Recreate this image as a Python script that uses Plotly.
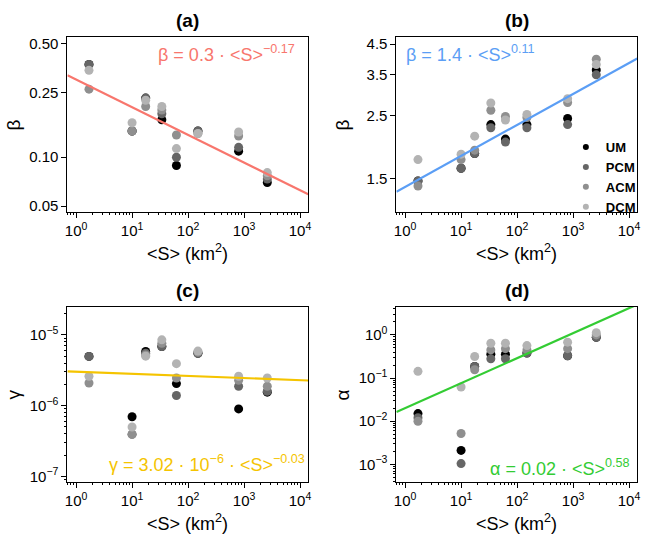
import numpy as np
import plotly.graph_objects as go

# mean area of the spatial units (km^2)
S = [1.7, 10, 17.5, 34, 62, 150, 800, 2600]
models = ["UM", "PCM", "ACM", "DCM"]
model_colors = ["#000000", "#666666", "#8f8f8f", "#b3b3b3"]

beta_a = {
    "UM":  [0.372, 0.145, 0.231, 0.170, 0.089, 0.145, 0.109, 0.070],
    "PCM": [0.372, 0.145, 0.231, 0.185, 0.100, 0.145, 0.115, 0.0734],
    "ACM": [0.262, 0.145, 0.205, 0.195, 0.137, 0.140, 0.135, 0.0769],
    "DCM": [0.342, 0.163, 0.224, 0.205, 0.113, 0.140, 0.143, 0.0805],
}
beta_b = {
    "UM":  [1.47, 1.63, 1.84, 2.33, 2.07, 2.33, 2.45, 3.64],
    "PCM": [1.47, 1.63, 1.84, 2.27, 2.02, 2.27, 2.33, 3.50],
    "ACM": [1.41, 1.75, 1.89, 2.62, 2.49, 2.47, 2.79, 3.98],
    "DCM": [1.75, 1.83, 2.12, 2.78, 2.42, 2.53, 2.88, 3.81],
}
gamma_c = {
    "UM":  [4.96e-6, 6.97e-7, 5.83e-6, 6.86e-6, 2.05e-6, 5.5e-6, 9.0e-7, 1.55e-6],
    "PCM": [4.96e-6, 3.94e-7, 5.5e-6, 6.86e-6, 1.39e-6, 5.5e-6, 1.88e-6, 1.6e-6],
    "ACM": [2.09e-6, 3.94e-7, 5.2e-6, 7.6e-6, 2.46e-6, 5.7e-6, 2.28e-6, 1.88e-6],
    "DCM": [2.6e-6, 5.0e-7, 5.0e-6, 8.5e-6, 3.92e-6, 5.9e-6, 2.6e-6, 2.46e-6],
}
alpha_d = {
    "UM":  [0.015, 0.0021, 0.186, 0.358, 0.358, 0.38, 0.33, 0.88],
    "PCM": [0.012, 0.00104, 0.186, 0.279, 0.28, 0.38, 0.33, 0.88],
    "ACM": [0.010, 0.0052, 0.156, 0.45, 0.48, 0.45, 0.48, 1.0],
    "DCM": [0.143, 0.062, 0.316, 0.64, 0.64, 0.567, 0.68, 1.13],
}

# power-law fits  y = c * S^k
fit_coef = [0.3, 1.4, 3.02e-6, 0.02]
fit_exp = [-0.17, 0.11, -0.03, 0.58]
fit_colors = ["#f8766d", "#5b9ef5", "#f5c400", "#33cc33"]
fit_labels = [
    "β = 0.3 · &lt;S&gt;<sup>−0.17</sup>",
    "β = 1.4 · &lt;S&gt;<sup>0.11</sup>",
    "γ = 3.02 · 10<sup>−6</sup> · &lt;S&gt;<sup>−0.03</sup>",
    "α = 0.02 · &lt;S&gt;<sup>0.58</sup>",
]
panel_titles = ["(a)", "(b)", "(c)", "(d)"]
y_titles = ["β", "β", "γ", "α"]

x_range = [np.log10(0.7), np.log10(14000)]
y_ranges = [
    [np.log10(0.0458), np.log10(0.55)],
    [np.log10(1.136), np.log10(4.78)],
    [-7.084, -4.603],
    [-3.42, 0.654],
]
y_tickvals = [
    [0.05, 0.10, 0.25, 0.50],
    [1.5, 2.5, 3.5, 4.5],
    [1e-7, 1e-6, 1e-5],
    [1e-3, 1e-2, 1e-1, 1e0],
]
y_ticktext = [
    ["0.05", "0.10", "0.25", "0.50"],
    ["1.5", "2.5", "3.5", "4.5"],
    ["10<sup>−7</sup>", "10<sup>−6</sup>", "10<sup>−5</sup>"],
    ["10<sup>−3</sup>", "10<sup>−2</sup>", "10<sup>−1</sup>", "10<sup>0</sup>"],
]
y_minor = [False, False, True, True]
datasets = [beta_a, beta_b, gamma_c, alpha_d]

W, H = 664, 544
x_dom = [[65 / W, 308 / W], [397 / W, 640 / W]]
y_dom = [[1 - 212 / H, 1 - 35 / H], [1 - 484 / H, 1 - 307 / H]]

FONT = "Liberation Sans, Arial, sans-serif"

fig = go.Figure()
layout = {}
annotations = []
minor_style = dict(ticks="outside", ticklen=2, tickcolor="black",
                   dtick="D1", showgrid=False)

for i in range(4):
    r, c = divmod(i, 2)
    sfx = "" if i == 0 else str(i + 1)
    xa, ya = "x" + sfx, "y" + sfx

    data = datasets[i]
    for m, col in zip(models, model_colors):
        fig.add_trace(go.Scatter(
            x=S, y=data[m], mode="markers", xaxis=xa, yaxis=ya,
            marker=dict(color=col, size=9), showlegend=False, name=m,
        ))

    xs = np.array([0.7, 14000])
    fig.add_trace(go.Scatter(
        x=xs, y=fit_coef[i] * xs ** fit_exp[i], mode="lines",
        xaxis=xa, yaxis=ya, line=dict(color=fit_colors[i], width=2.2),
        showlegend=False, hoverinfo="skip",
    ))

    common = dict(
        type="log", showgrid=False, zeroline=False, showline=True,
        linecolor="black", linewidth=1, mirror=True, ticks="outside",
        ticklen=5, tickcolor="black", tickfont=dict(size=15, color="black"),
    )
    layout["xaxis" + sfx] = dict(
        common, domain=x_dom[c], range=x_range, anchor=ya,
        tickvals=[1, 10, 100, 1000, 10000],
        ticktext=["10<sup>%d</sup>" % k for k in range(5)],
        minor=minor_style,
    )
    yax = dict(
        common, domain=y_dom[r], range=y_ranges[i], anchor=xa,
        tickvals=y_tickvals[i], ticktext=y_ticktext[i],
    )
    if y_minor[i]:
        yax["minor"] = minor_style
    layout["yaxis" + sfx] = yax

    xmid = (x_dom[c][0] + x_dom[c][1]) / 2
    annotations.append(dict(
        text="<b>%s</b>" % panel_titles[i], xref="paper", yref="paper",
        x=xmid, y=y_dom[r][1] + 16 / H, xanchor="center", yanchor="middle",
        showarrow=False, font=dict(size=19, color="black"),
    ))
    annotations.append(dict(
        text="&lt;S&gt; (km<sup>2</sup>)", xref="paper", yref="paper",
        x=xmid, y=y_dom[r][0] - 40 / H, xanchor="center", yanchor="middle",
        showarrow=False, font=dict(size=18, color="black"),
    ))
    annotations.append(dict(
        text=y_titles[i], xref="paper", yref="paper",
        x=x_dom[c][0] - 54 / W, y=(y_dom[r][0] + y_dom[r][1]) / 2,
        xanchor="center", yanchor="middle", textangle=-90,
        showarrow=False, font=dict(size=19, color="black"),
    ))

# equation labels
eq_pos = [
    (297 / W, 1 - 52 / H, "right"),
    (405 / W, 1 - 52 / H, "left"),
    (307 / W, 1 - 465 / H, "right"),
    (635 / W, 1 - 469 / H, "right"),
]
for i, (ex, ey, anc) in enumerate(eq_pos):
    annotations.append(dict(
        text=fit_labels[i], xref="paper", yref="paper", x=ex, y=ey,
        xanchor=anc, yanchor="middle", showarrow=False,
        font=dict(size=18, color=fit_colors[i]),
    ))

# legend entries (panel b)
for m, col in zip(models, model_colors):
    fig.add_trace(go.Scatter(
        x=[None], y=[None], mode="markers", xaxis="x2", yaxis="y2",
        marker=dict(color=col, size=6), name="<b>%s</b>" % m,
    ))

fig.update_layout(
    **layout,
    annotations=annotations,
    width=W, height=H,
    margin=dict(l=0, r=0, t=0, b=0),
    paper_bgcolor="white", plot_bgcolor="white",
    font=dict(family=FONT, color="black"),
    showlegend=True,
    legend=dict(
        x=568 / W, y=1 - 131 / H, xanchor="left", yanchor="top",
        bgcolor="rgba(0,0,0,0)", font=dict(size=13, color="black"),
        itemwidth=30, tracegroupgap=0,
    ),
)

fig.write_html("out.html", config={"displayModeBar": False},
               post_script="document.body.style.margin='0';")
